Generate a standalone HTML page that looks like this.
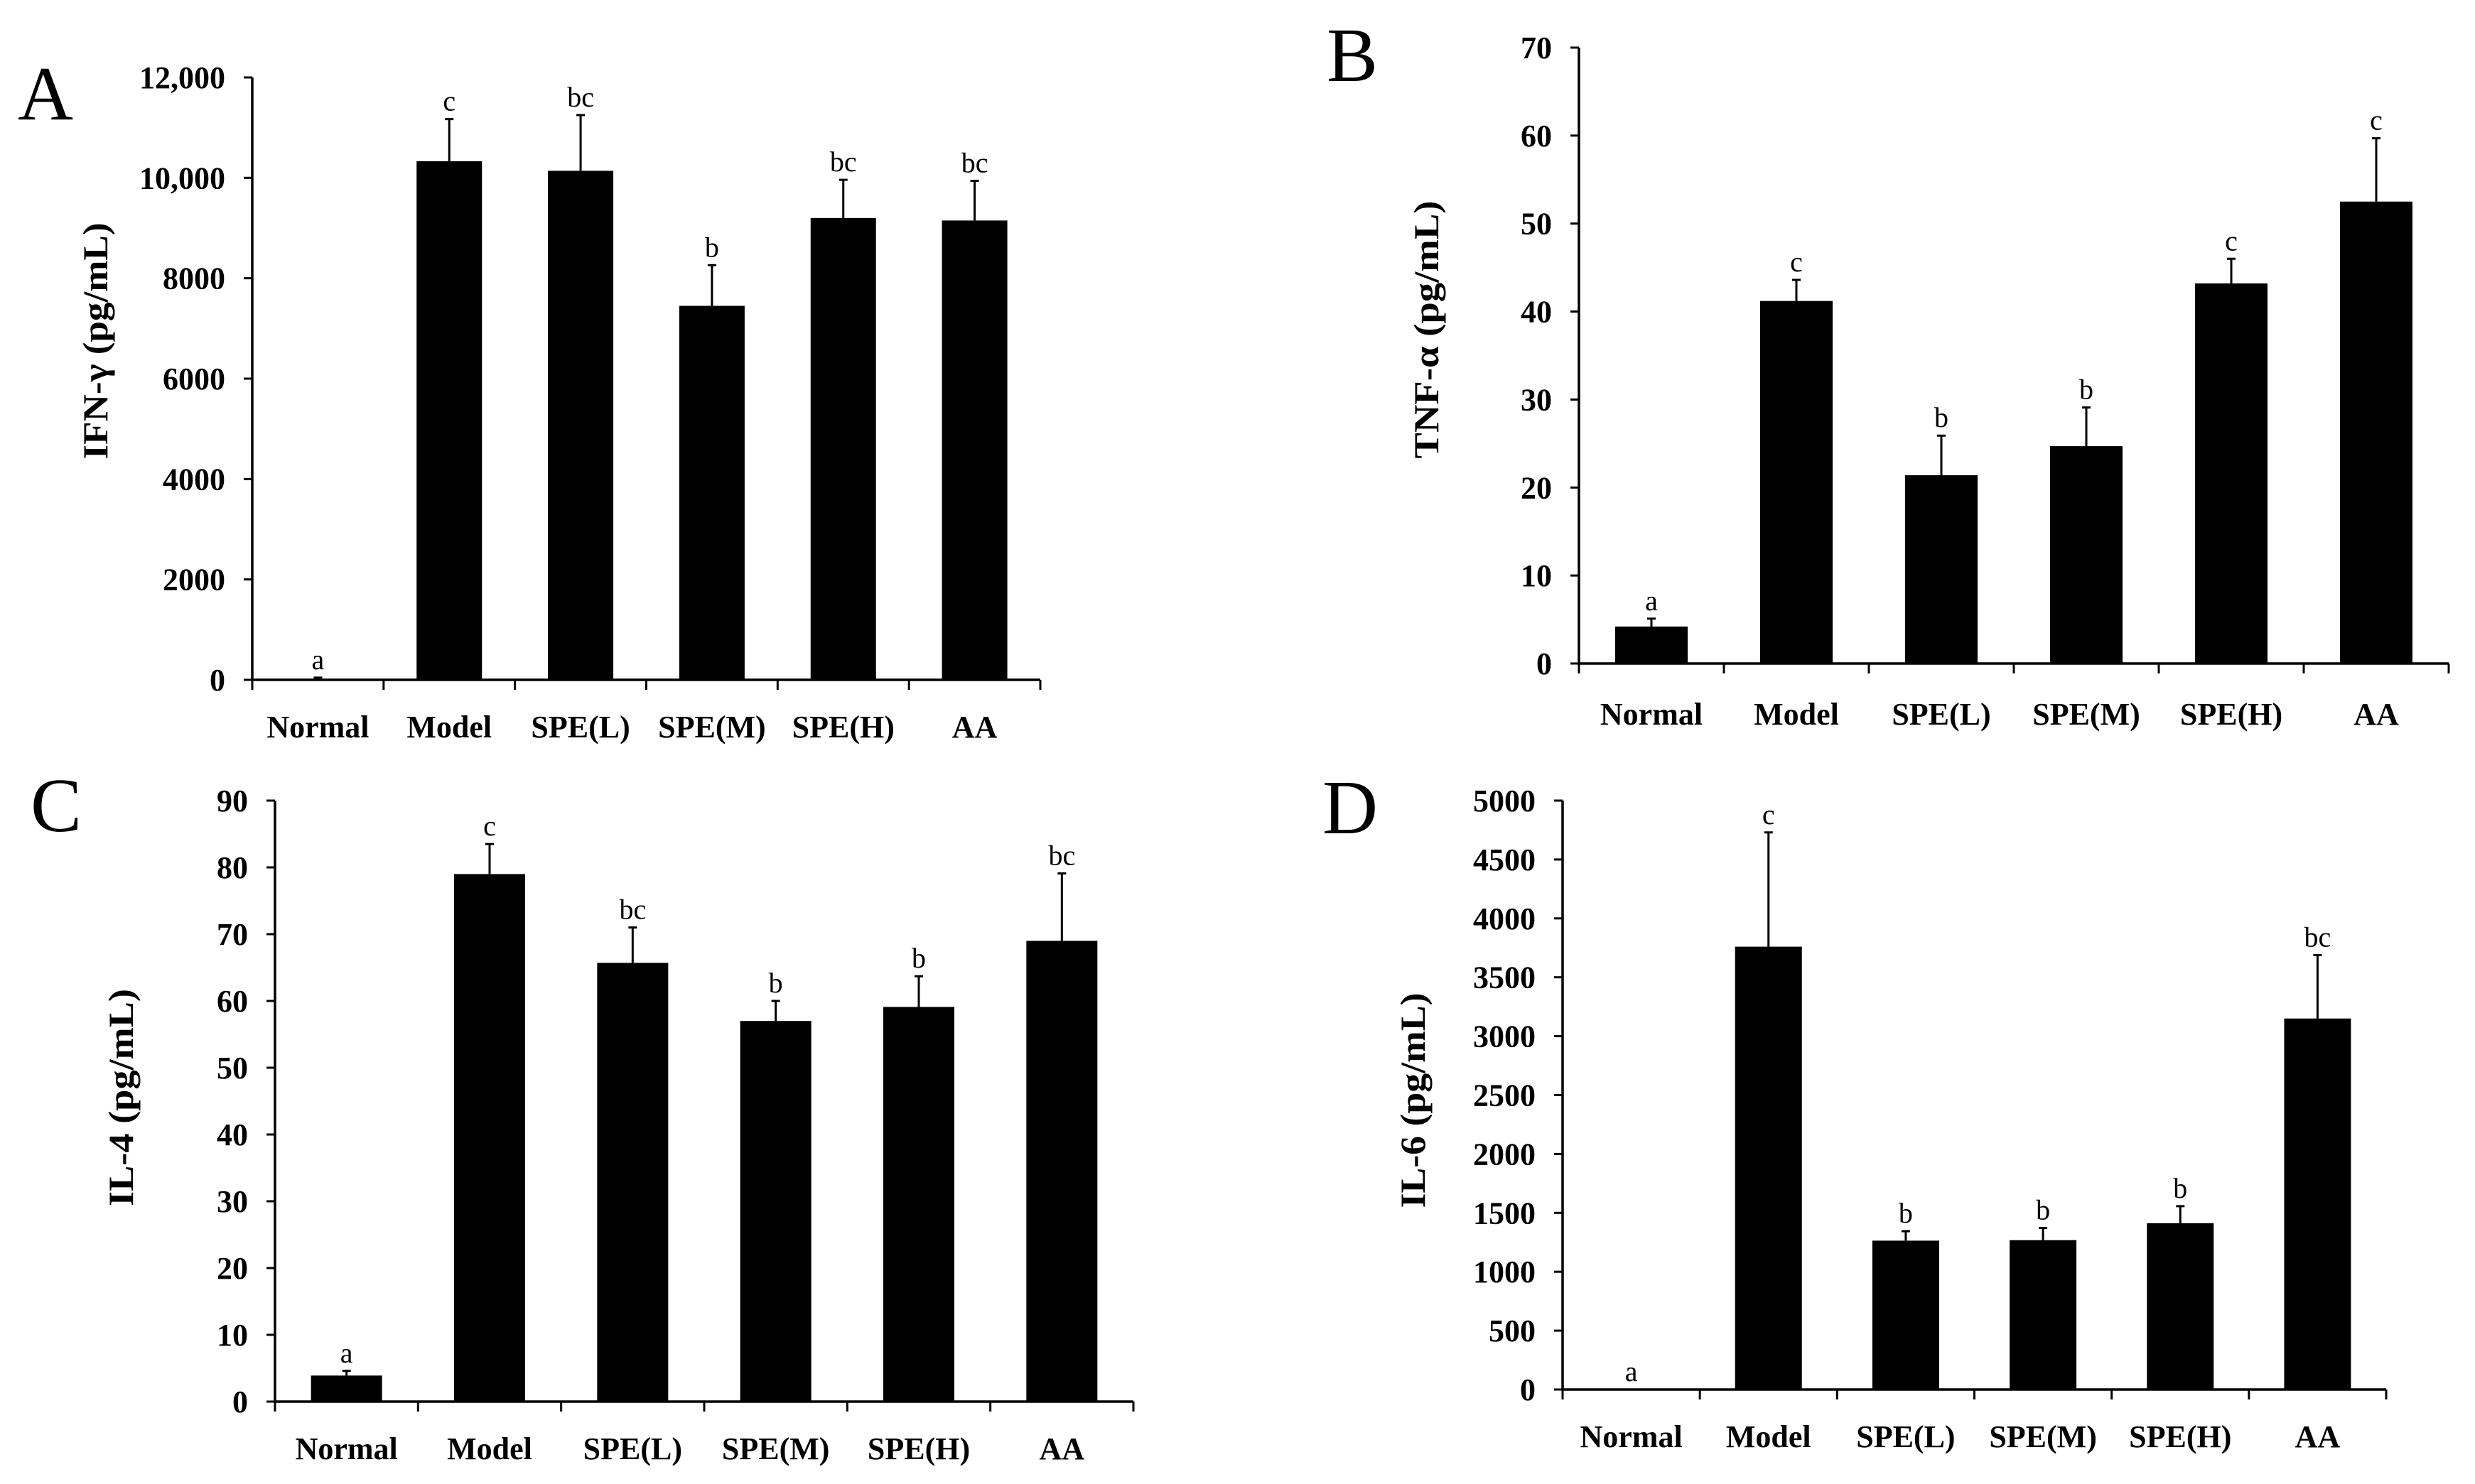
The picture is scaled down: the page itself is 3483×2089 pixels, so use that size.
<!DOCTYPE html>
<html><head><meta charset="utf-8"><style>
html,body{margin:0;padding:0;background:#fff;}
svg{display:block;}
text{font-family:"Liberation Serif","Times New Roman",serif;fill:#000;}
</style></head>
<body>
<svg id="fig" xmlns="http://www.w3.org/2000/svg" width="3483" height="2089" viewBox="0 0 3483 2089">
<rect width="3483" height="2089" fill="#fff"/>
</svg>
<script>
const categories = ["Normal","Model","SPE(L)","SPE(M)","SPE(H)","AA"];
const ifnValues = [20,10330,10140,7450,9200,9150];
const ifnErrors = [25,840,1110,810,760,790];
const ifnSig = ["a","c","bc","b","bc","bc"];
const ifnTicks = [0,2000,4000,6000,8000,10000,12000];
const ifnTickLabels = ["0","2000","4000","6000","8000","10,000","12,000"];
const tnfValues = [4.2,41.2,21.4,24.7,43.2,52.5];
const tnfErrors = [0.9,2.4,4.5,4.4,2.8,7.2];
const tnfSig = ["a","c","b","b","c","c"];
const tnfTicks = [0,10,20,30,40,50,60,70];
const il4Values = [3.9,79.0,65.7,57.0,59.1,69.0];
const il4Errors = [0.7,4.5,5.3,3.0,4.6,10.1];
const il4Sig = ["a","c","bc","b","b","bc"];
const il4Ticks = [0,10,20,30,40,50,60,70,80,90];
const il6Values = [0,3760,1264,1268,1412,3150];
const il6Errors = [0,970,80,104,145,538];
const il6Sig = ["a","c","b","b","b","bc"];
const il6Ticks = [0,500,1000,1500,2000,2500,3000,3500,4000,4500,5000];

const NS = "http://www.w3.org/2000/svg";
const svg = document.getElementById("fig");
function mk(tag, attrs, parent){
  const e = document.createElementNS(NS, tag);
  for (const k in attrs) e.setAttribute(k, attrs[k]);
  (parent||svg).appendChild(e);
  return e;
}

const panels = [
  {id:"a", letter:"A", lx:25, ly:168, x0:355, x1:1464, yTop:109, yZero:957, max:12000, ticks:ifnTicks, tickLabels:ifnTickLabels,
   values:ifnValues, errors:ifnErrors, sig:ifnSig, catY:1038, barW:92, title:"IFN-γ (pg/mL)", tx:151, ty:480, tl:333},
  {id:"b", letter:"B", lx:1867, ly:114, x0:2222, x1:3446, yTop:67, yZero:934, max:70, ticks:tnfTicks, tickLabels:tnfTicks.map(String),
   values:tnfValues, errors:tnfErrors, sig:tnfSig, catY:1020, barW:102, title:"TNF-α (pg/mL)", tx:2024, ty:464, tl:363},
  {id:"c", letter:"C", lx:43, ly:1170, x0:387, x1:1595, yTop:1127, yZero:1973, max:90, ticks:il4Ticks, tickLabels:il4Ticks.map(String),
   values:il4Values, errors:il4Errors, sig:il4Sig, catY:2054, barW:100, title:"IL-4 (pg/mL)", tx:187, ty:1545, tl:306},
  {id:"d", letter:"D", lx:1861, ly:1173, x0:2199, x1:3358, yTop:1127, yZero:1956, max:5000, ticks:il6Ticks, tickLabels:il6Ticks.map(String),
   values:il6Values, errors:il6Errors, sig:il6Sig, catY:2037, barW:94, title:"IL-6 (pg/mL)", tx:2005, ty:1549, tl:303}
];

panels.forEach(p => {
  const g = mk("g", {});
  
  
  const yS = v => p.yZero - (v / p.max) * (p.yZero - p.yTop);
  const step = (p.x1 - p.x0) / categories.length;
  const xC = i => p.x0 + (i + 0.5) * step;

  const L = mk("text", {x:p.lx, y:p.ly, "font-size":108}, g);
  L.textContent = p.letter;
  
  

  const T = mk("text", {transform:`translate(${p.tx},${p.ty}) rotate(-90)`, "text-anchor":"middle", "font-size":50, "font-weight":"bold", textLength:p.tl, lengthAdjust:"spacingAndGlyphs"}, g);
  T.textContent = p.title;
  
  

  p.values.forEach((v, i) => {
    const top = yS(v);
    const r = mk("rect", {x:xC(i) - p.barW/2, y:top, width:p.barW, height:Math.max(0, p.yZero - top), fill:"#000"}, g);
    
    
    const et = yS(v + p.errors[i]);
    if (p.errors[i] > 0) {
      const e = mk("path", {d:`M${xC(i)},${top} V${et} M${xC(i)-6},${et} H${xC(i)+6}`, stroke:"#000", "stroke-width":3, fill:"none"}, g);
      
      
    }
    const s = mk("text", {x:xC(i), y:et - 12, "text-anchor":"middle", "font-size":40}, g);
    s.textContent = p.sig[i];
    
    
    const c = mk("text", {x:xC(i), y:p.catY, "text-anchor":"middle", "font-size":44, "font-weight":"bold"}, g);
    c.textContent = categories[i];
    
    
  });

  const ax = mk("path", {d:`M${p.x0},${p.yTop} V${p.yZero} H${p.x1}`, stroke:"#000", "stroke-width":3.5, fill:"none"}, g);
  
  
  for (let i = 0; i <= categories.length; i++) {
    const x = p.x0 + i * step;
    const t = mk("line", {x1:x, x2:x, y1:p.yZero, y2:p.yZero + 14, stroke:"#000", "stroke-width":3}, g);
    
    
  }
  p.ticks.forEach((v, i) => {
    const y = yS(v);
    const t = mk("line", {x1:p.x0 - 12, x2:p.x0, y1:y, y2:y, stroke:"#000", "stroke-width":3}, g);
    
    
    const tl = mk("text", {x:p.x0 - 38, y:y + 15, "text-anchor":"end", "font-size":44, "font-weight":"bold"}, g);
    tl.textContent = p.tickLabels[i];
    
    
  });
});
</script>
</body></html>
